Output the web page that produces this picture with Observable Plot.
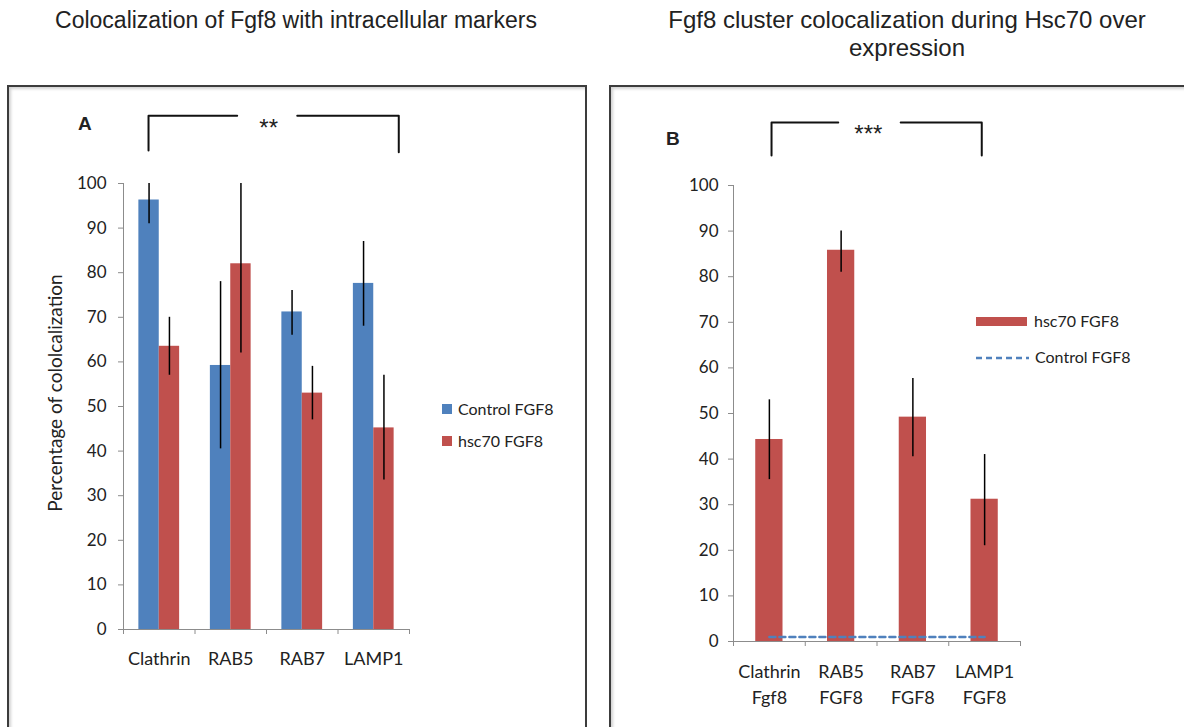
<!DOCTYPE html>
<html><head><meta charset="utf-8">
<script src="https://cdn.jsdelivr.net/npm/d3@7"></script>
<script src="https://cdn.jsdelivr.net/npm/@observablehq/plot@0.6"></script>
<style>
body{margin:0;width:1184px;height:727px;overflow:hidden;background:#fff;position:relative;font-family:"Liberation Sans",Arial,sans-serif;color:#222}
.abs{position:absolute}
.title{font-size:23.5px;text-align:center;line-height:28px;white-space:nowrap}
.box{border:2px solid #3c3c3c;box-shadow:inset 2px 2px 3px rgba(0,0,0,0.18);pointer-events:none;z-index:5}
.leg{font-family:Lato,sans-serif;font-size:16px;line-height:18px;white-space:nowrap}
.letter{font-weight:bold;font-size:19px}
#plotA,#plotB{position:absolute;top:0}
#plotA{left:0}#plotB{left:600px}
</style></head>
<body>
<div class="abs title" style="left:0;width:592px;top:6px;font-size:23px">Colocalization of Fgf8 with intracellular markers</div>
<div class="abs title" style="left:607px;width:600px;top:6px;font-size:24px">Fgf8 cluster colocalization during Hsc70 over<br>expression</div>
<div class="abs box" style="left:7px;top:85px;width:576px;height:700px"></div>
<div class="abs box" style="left:609px;top:85px;width:600px;height:700px"></div>
<div id="plotA"></div>
<div id="plotB"></div>
<div class="abs letter" style="left:78px;top:113px">A</div>
<div class="abs letter" style="left:666px;top:128px">B</div>
<div class="abs leg" style="left:55px;top:393px;font-size:19px;transform:translate(-50%,-50%) rotate(-90deg)">Percentage of cololcalization</div>
<div class="abs" style="left:442px;top:404px;width:10px;height:10px;background:#4F81BD"></div>
<div class="abs leg" style="left:458px;top:400px">Control FGF8</div>
<div class="abs" style="left:442px;top:436px;width:10px;height:10px;background:#C0504D"></div>
<div class="abs leg" style="left:458px;top:432px">hsc70 FGF8</div>
<div class="abs" style="left:976px;top:317px;width:51px;height:9px;background:#C0504D"></div>
<div class="abs leg" style="left:1034px;top:312px">hsc70 FGF8</div>
<svg class="abs" style="left:976px;top:354px" width="54" height="8"><line x1="0" y1="4" x2="53" y2="4" stroke="#4F81BD" stroke-width="2.5" stroke-dasharray="6,4"/></svg>
<div class="abs leg" style="left:1035px;top:348px">Control FGF8</div>
<script>
// ---- Panel A data ----
const catsA = ["Clathrin", "RAB5", "RAB7", "LAMP1"];
const controlA = [96.3, 59.2, 71.2, 77.6];
const controlAlo = [91, 40.5, 66, 68];
const controlAhi = [100, 78, 76, 87];
const hscA = [63.5, 82, 53, 45.2];
const hscAlo = [57, 62, 47, 33.5];
const hscAhi = [70, 100, 59, 57];
// ---- Panel B data ----
const catsB = ["Clathrin\nFgf8", "RAB5\nFGF8", "RAB7\nFGF8", "LAMP1\nFGF8"];
const hscB = [44.3, 85.8, 49.2, 31.2];
const hscBlo = [35.5, 81, 40.5, 21];
const hscBhi = [53, 90, 57.7, 41];
const controlB = [1, 1, 1, 1];
const yTicks = [0, 10, 20, 30, 40, 50, 60, 70, 80, 90, 100];
// significance brackets (data units)
const bracketA = [[0.35,107.4,"l"],[0.35,115.2,"l"],[1.59,115.2,"l"],[2.43,115.2,"r"],[3.85,115.2,"r"],[3.85,107,"r"]];
const sigA = [{x:2.03, y:112.4, t:"**"}];
const bracketB = [[0.53,106.6,"l"],[0.53,113.8,"l"],[1.46,113.8,"l"],[2.33,113.8,"r"],[3.46,113.8,"r"],[3.46,106.6,"r"]];
const sigB = [{x:1.88, y:111.2, t:"***"}];

const BLUE = "#4F81BD", RED = "#C0504D", AXIS = "#8c8c8c";

const rowsA = [];
catsA.forEach((c, i) => {
  rowsA.push({i, s: "Control", v: controlA[i], lo: controlAlo[i], hi: controlAhi[i], x1: i + 0.215, x2: i + 0.5});
  rowsA.push({i, s: "hsc70", v: hscA[i], lo: hscAlo[i], hi: hscAhi[i], x1: i + 0.5, x2: i + 0.785});
});
const rowsB = catsB.map((c, i) => ({i, v: hscB[i], lo: hscBlo[i], hi: hscBhi[i], c: controlB[i]}));

const style = {background: "transparent", fontFamily: "Lato, sans-serif", fontSize: "17px", color: "#222", overflow: "visible"};
const starFont = "Liberation Sans, Arial, sans-serif";

const plotA = Plot.plot({
  width: 600, height: 727,
  marginLeft: 123, marginRight: 191, marginTop: 183, marginBottom: 98,
  x: {domain: [0, 4]}, y: {domain: [0, 100]},
  style,
  marks: [
    Plot.rectY(rowsA, {x1: "x1", x2: "x2", y: "v", fill: d => d.s === "Control" ? BLUE : RED}),
    Plot.ruleX(rowsA, {x: d => (d.x1 + d.x2) / 2, y1: "lo", y2: "hi", stroke: "black", strokeWidth: 1.5}),
    Plot.ruleX([0], {stroke: AXIS}),
    Plot.ruleY([0], {stroke: AXIS}),
    Plot.axisY({ticks: yTicks, tickSize: 5, tickPadding: 12, stroke: AXIS, fill: "#222", fontSize: 17, label: null}),
    Plot.axisX({ticks: [0, 1, 2, 3, 4], tickSize: 5, tickFormat: () => "", stroke: AXIS, label: null}),
    Plot.axisX({ticks: [0.5, 1.5, 2.5, 3.5], tickSize: 0, tickPadding: 23, tickFormat: t => catsA[Math.floor(t)], fill: "#222", fontSize: 18, label: null}),
    Plot.line(bracketA, {x: d => d[0], y: d => d[1], z: d => d[2], stroke: "#111", strokeWidth: 2, curve: "linear"}),
    Plot.text(sigA, {x: "x", y: "y", text: "t", fontSize: 24, fontFamily: starFont, fill: "#222"})
  ]
});
document.getElementById("plotA").appendChild(plotA);

const plotB = Plot.plot({
  width: 584, height: 727,
  marginLeft: 133, marginRight: 164, marginTop: 185, marginBottom: 86,
  x: {domain: [0, 4]}, y: {domain: [0, 100]},
  style,
  marks: [
    Plot.rectY(rowsB, {x1: d => d.i + 0.31, x2: d => d.i + 0.69, y: "v", fill: RED}),
    Plot.ruleX(rowsB, {x: d => d.i + 0.5, y1: "lo", y2: "hi", stroke: "black", strokeWidth: 1.5}),
    Plot.ruleX([0], {stroke: AXIS}),
    Plot.ruleY([0], {stroke: AXIS}),
    Plot.axisY({ticks: yTicks, tickSize: 5, tickPadding: 10, stroke: AXIS, fill: "#222", fontSize: 17, label: null}),
    Plot.axisX({ticks: [0, 1, 2, 3, 4], tickSize: 5, tickFormat: () => "", stroke: AXIS, label: null}),
    Plot.axisX({ticks: [0.5, 1.5, 2.5, 3.5], tickSize: 0, tickPadding: 19, tickFormat: t => catsB[Math.floor(t)], fill: "#222", fontSize: 18, label: null, lineHeight: 1.4}),
    Plot.line(rowsB, {x: d => d.i + 0.5, y: "c", stroke: BLUE, strokeWidth: 2.5, strokeDasharray: "6,4"}),
    Plot.line(bracketB, {x: d => d[0], y: d => d[1], z: d => d[2], stroke: "#111", strokeWidth: 2}),
    Plot.text(sigB, {x: "x", y: "y", text: "t", fontSize: 24, fontFamily: starFont, fill: "#222"})
  ]
});
document.getElementById("plotB").appendChild(plotB);
</script>
</body></html>
